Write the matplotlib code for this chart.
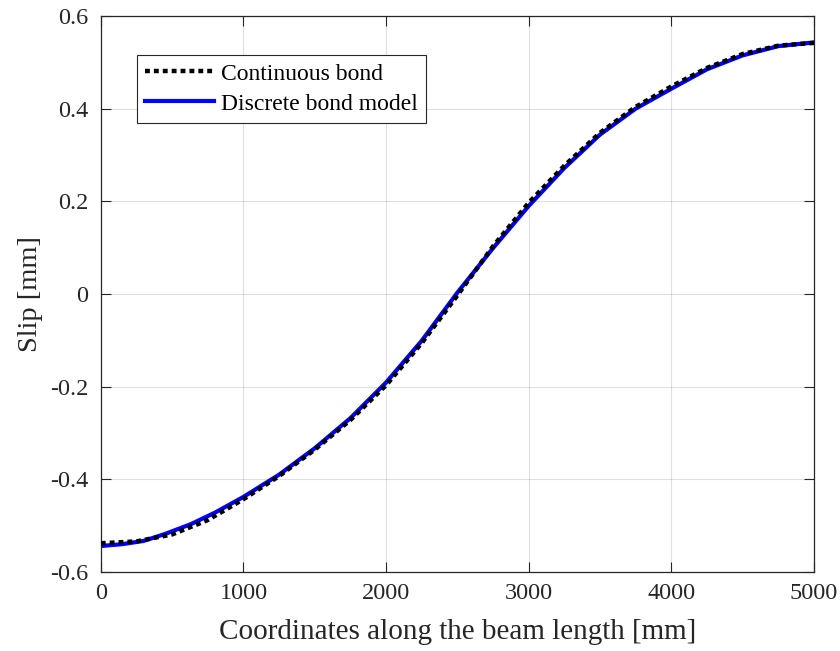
import numpy as np
from matplotlib import pyplot as plt
from matplotlib.ticker import FuncFormatter

######################
# Data

x_mm = [0, 250, 500, 750, 1000, 1250, 1500, 1750, 2000, 2250, 2500,
        2750, 3000, 3250, 3500, 3750, 4000, 4250, 4500, 4750, 5000]

slip_continuous = [-0.538, -0.534, -0.519, -0.488, -0.443, -0.393, -0.336,
                   -0.272, -0.197, -0.106, -0.003, 0.103, 0.197, 0.277,
                   0.348, 0.404, 0.448, 0.488, 0.518, 0.536, 0.542]

x_disc = [0, 150, 300, 450, 630, 800, 1000, 1250, 1500, 1750, 2000, 2250,
          2500, 2750, 3000, 3250, 3500, 3750, 4000, 4250, 4500, 4750, 5000]
slip_discrete = [-0.544, -0.540, -0.533, -0.518, -0.497, -0.472, -0.438,
                 -0.390, -0.333, -0.268, -0.191, -0.101, 0.003, 0.099,
                 0.190, 0.272, 0.344, 0.400, 0.443, 0.485, 0.515, 0.535,
                 0.543]

xticks = [0, 1000, 2000, 3000, 4000, 5000]
yticks = [-0.6, -0.4, -0.2, 0, 0.2, 0.4, 0.6]
######################

plt.rcParams['font.family'] = ['Liberation Serif', 'DejaVu Serif']
axcol = '#262626'

fig = plt.figure(figsize=(8.4, 6.51), dpi=100)
ax = fig.add_axes([0.120, 0.1214, 0.849, 0.854])

ax.plot(x_mm, slip_continuous, color='black', lw=3.2,
        linestyle=(0, (1.1, 0.9)), label='Continuous bond', zorder=3)
ax.plot(x_disc, slip_discrete, color='#0000ff', lw=3.0,
        label='Discrete bond model', zorder=2)

ax.set_xlim(0, 5000)
ax.set_ylim(-0.6, 0.6)
ax.set_xticks(xticks)
ax.set_yticks(yticks)

def yfmt(v, pos):
    s = ('%g' % round(v, 2))
    return s.replace('\u2212', '-')

ax.yaxis.set_major_formatter(FuncFormatter(yfmt))
ax.xaxis.set_major_formatter(FuncFormatter(lambda v, p: '%d' % v))

ax.grid(True, color='#000000', alpha=0.12, lw=0.8)
ax.tick_params(direction='in', length=7, width=0.8, top=True, right=True,
               labelsize=17.5, colors=axcol)
ax.tick_params(axis='x', pad=8)
ax.tick_params(axis='y', pad=9)
for sp in ax.spines.values():
    sp.set_color(axcol)
    sp.set_linewidth(0.9)

ax.set_xlabel('Coordinates along the beam length [mm]', size=21, color=axcol,
              labelpad=11)
ax.set_ylabel('Slip [mm]', size=20.5, color=axcol, labelpad=5)

leg = ax.legend(loc='upper left', bbox_to_anchor=(0.051, 0.93), fontsize=17,
                frameon=True, fancybox=False, handlelength=2.9,
                borderpad=0.35, labelspacing=0.35, handletextpad=0.3,
                borderaxespad=0)
leg.get_frame().set_edgecolor(axcol)
leg.get_frame().set_linewidth(0.8)
leg.get_frame().set_alpha(1)

plt.savefig('out.png', dpi=100)
